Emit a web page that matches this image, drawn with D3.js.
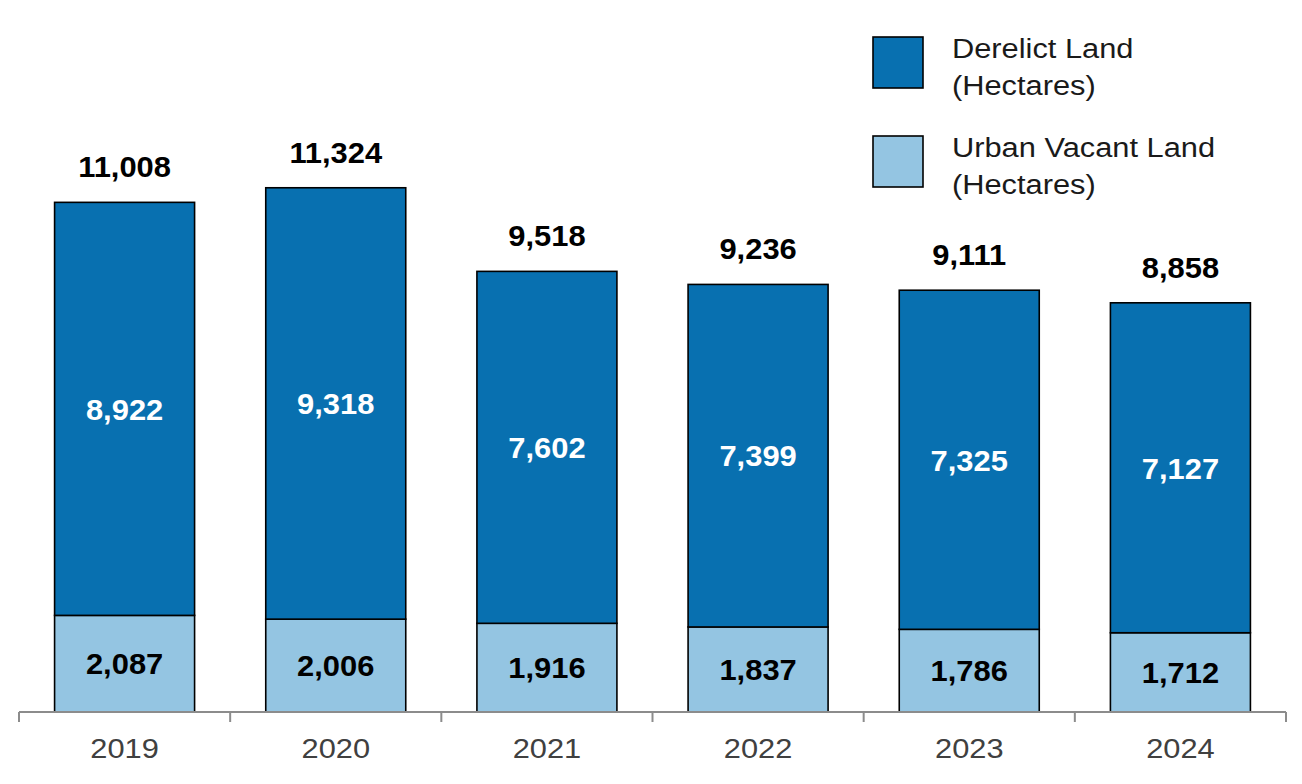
<!DOCTYPE html>
<html>
<head>
<meta charset="utf-8">
<script src="https://cdn.jsdelivr.net/npm/d3@7/dist/d3.min.js"></script>
<style>
  body { margin: 0; background: #fff; }
  text { font-family: "Liberation Sans", Arial, sans-serif; }
</style>
</head>
<body>
<div id="chart"></div>
<script>
'use strict';

var years = ["2019", "2020", "2021", "2022", "2023", "2024"];
var urbanVacant = [2087, 2006, 1916, 1837, 1786, 1712];
var derelict = [8922, 9318, 7602, 7399, 7325, 7127];
var totals = [11008, 11324, 9518, 9236, 9111, 8858];
var seriesNames = [["Derelict Land", "(Hectares)"], ["Urban Vacant Land", "(Hectares)"]];

var width = 1302, height = 784;
var left = 19, right = 1286, base = 712;

var darkBlue = "#0870b0", lightBlue = "#94c5e2";
var stretch = 1.1;  // source text is a little wider than Liberation Sans

var svg = d3.select("#chart").append("svg")
    .attr("width", width)
    .attr("height", height);

var p = 0.337;
var x = d3.scaleBand().domain(years).range([left, right])
    .paddingInner(p).paddingOuter(p / 2);
var xCat = d3.scaleBand().domain(years).range([left, right]);
var y = d3.scaleLinear().domain([0, 15380]).range([base, 0]);

var rows = years.map(function(yr, i) {
    return { year: yr, urban: urbanVacant[i], derelict: derelict[i], total: totals[i] };
});

var stack = d3.stack().keys(["urban", "derelict"]);
var layers = stack(rows);
var fills = { urban: lightBlue, derelict: darkBlue };

function place(px, py, sx) {
    return "translate(" + px + "," + py + ") scale(" + sx + ",1)";
}

var g = svg.append("g");

layers.forEach(function(layer) {
    g.selectAll(".seg-" + layer.key)
        .data(layer)
        .enter().append("rect")
        .attr("x", function(d) { return x(d.data.year); })
        .attr("y", function(d) { return y(d[1]); })
        .attr("width", x.bandwidth())
        .attr("height", function(d) { return y(d[0]) - y(d[1]); })
        .attr("fill", fills[layer.key])
        .attr("stroke", "#000")
        .attr("stroke-width", 1.6);

    g.selectAll(".lbl-" + layer.key)
        .data(layer)
        .enter().append("text")
        .attr("transform", function(d) {
            return place(x(d.data.year) + x.bandwidth() / 2, (y(d[0]) + y(d[1])) / 2, 1.03);
        })
        .attr("dy", "0.36em")
        .attr("text-anchor", "middle")
        .attr("font-size", 30)
        .attr("font-weight", "bold")
        .attr("fill", layer.key === "derelict" ? "#fff" : "#000")
        .text(function(d) { return d3.format(",")(d.data[layer.key]); });
});

// totals above bars
g.selectAll(".total")
    .data(layers[1])
    .enter().append("text")
    .attr("transform", function(d) {
        return place(x(d.data.year) + x.bandwidth() / 2, y(d[1]) - 25, 1.03);
    })
    .attr("text-anchor", "middle")
    .attr("font-size", 30)
    .attr("font-weight", "bold")
    .attr("fill", "#000")
    .text(function(d) { return d3.format(",")(d.data.total); });

// x axis
var axis = svg.append("g").attr("transform", "translate(0," + base + ")");
axis.append("line")
    .attr("x1", left).attr("x2", right)
    .attr("stroke", "#8c8c8c").attr("stroke-width", 2);
var bounds = years.map(function(d) { return xCat(d); }).concat([right]);
axis.selectAll(".tick-mark")
    .data(bounds)
    .enter().append("line")
    .attr("x1", function(d) { return d; })
    .attr("x2", function(d) { return d; })
    .attr("y1", 0).attr("y2", 10)
    .attr("stroke", "#8c8c8c").attr("stroke-width", 2);
axis.selectAll(".year")
    .data(years)
    .enter().append("text")
    .attr("transform", function(d) { return place(xCat(d) + xCat.bandwidth() / 2, 46, stretch); })
    .attr("text-anchor", "middle")
    .attr("font-size", 28)
    .attr("fill", "#404040")
    .text(function(d) { return d; });

// legend
var legend = svg.append("g");
var legendFills = [darkBlue, lightBlue];
seriesNames.forEach(function(name, i) {
    var top = 37 + i * 99;
    legend.append("rect")
        .attr("x", 873).attr("y", top)
        .attr("width", 50).attr("height", 51)
        .attr("fill", legendFills[i])
        .attr("stroke", "#000").attr("stroke-width", 1.6);
    var t = legend.append("text")
        .attr("transform", place(952, top + 21, stretch))
        .attr("font-size", 28)
        .attr("fill", "#1a1a1a");
    name.forEach(function(line, j) {
        t.append("tspan").attr("x", 0).attr("y", j * 37)
            .text(line);
    });
});
</script>
</body>
</html>
